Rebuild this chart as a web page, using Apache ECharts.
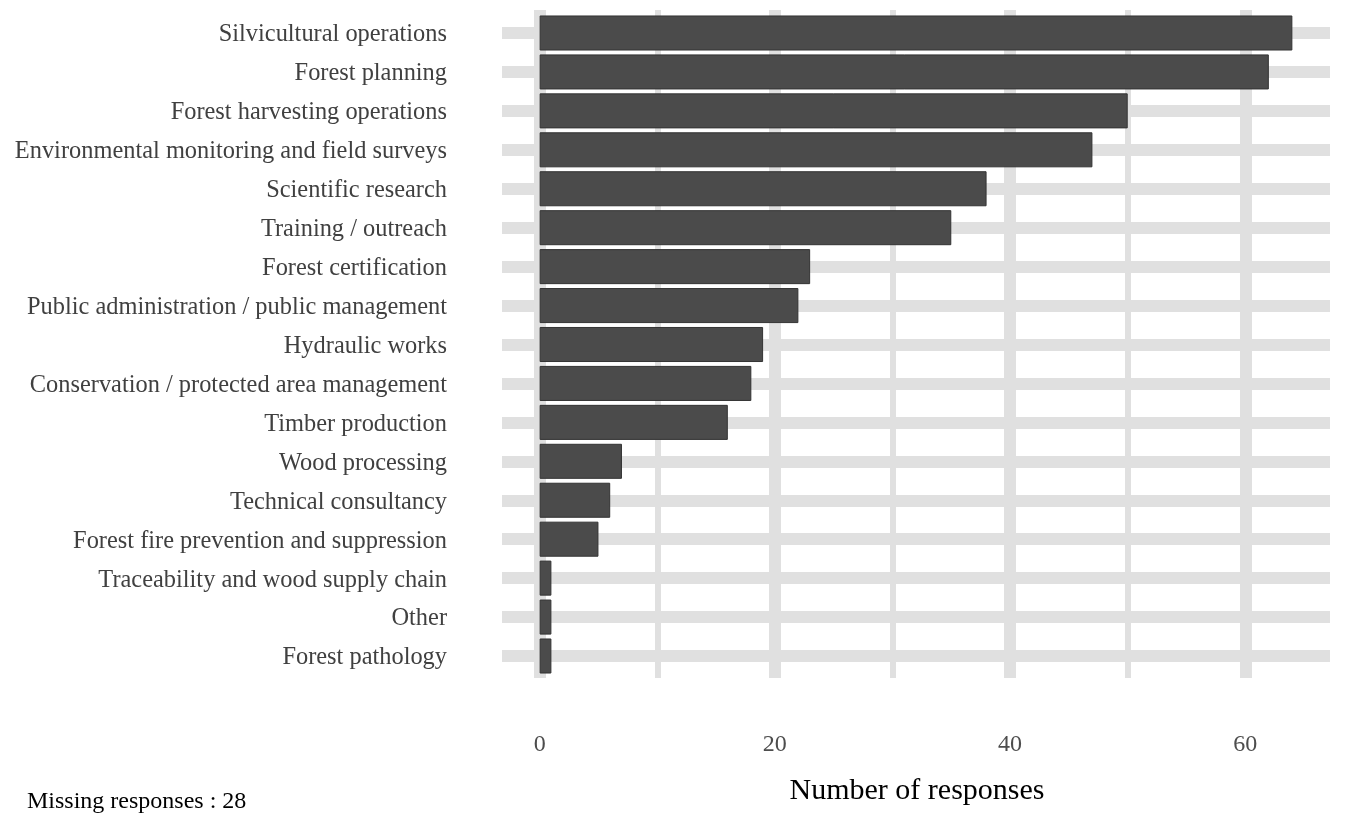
<!DOCTYPE html>
<html><head><meta charset="utf-8">
<script src="https://cdn.jsdelivr.net/npm/echarts@6/dist/echarts.min.js"></script>
<style>html,body{margin:0;padding:0;background:#fff}#c{width:1355px;height:839px}</style>
</head><body><div id="c"></div>
<script>
const categories = [
  'Silvicultural operations',
  'Forest planning',
  'Forest harvesting operations',
  'Environmental monitoring and field surveys',
  'Scientific research',
  'Training / outreach',
  'Forest certification',
  'Public administration / public management',
  'Hydraulic works',
  'Conservation / protected area management',
  'Timber production',
  'Wood processing',
  'Technical consultancy',
  'Forest fire prevention and suppression',
  'Traceability and wood supply chain',
  'Other',
  'Forest pathology'
];
const responses = [64, 62, 50, 47, 38, 35, 23, 22, 19, 18, 16, 7, 6, 5, 1, 1, 1];
const tickLabels = [0, 20, 40, 60];
const majorGrid = [0, 20, 40, 60];
const minorGrid = [10, 30, 50];
const xRange = [-3.2, 67.2];
const axisTitle = 'Number of responses';
const missingNote = 'Missing responses : 28';

const FONT = '"Liberation Serif", "Times New Roman", serif';
const GRID_COLOR = '#e0e0e0';

const chart = echarts.init(document.getElementById('c'), null, {renderer: 'canvas'});
const gridLines = majorGrid.map(v => ({xAxis: v, lineStyle: {color: GRID_COLOR, width: 12, type: 'solid'}}))
  .concat(minorGrid.map(v => ({xAxis: v, lineStyle: {color: GRID_COLOR, width: 6, type: 'solid'}})));

chart.setOption({
  animation: false,
  backgroundColor: '#ffffff',
  grid: [
    {left: 502, right: 25, top: 33, bottom: 183},
    {left: 502, right: 25, top: 10, bottom: 161}
  ],
  xAxis: [
    {gridIndex: 0, type: 'value', min: xRange[0], max: xRange[1], show: false},
    {gridIndex: 1, type: 'value', min: xRange[0], max: xRange[1],
     axisLine: {show: false}, axisTick: {show: false}, splitLine: {show: false},
     axisLabel: {customValues: tickLabels, margin: 55, fontFamily: FONT, fontSize: 24, color: '#4d4d4d'}}
  ],
  yAxis: [
    {gridIndex: 0, type: 'category', data: categories, inverse: true, boundaryGap: false,
     axisLine: {show: false}, axisTick: {show: false},
     axisLabel: {interval: 0, margin: 55, fontFamily: FONT, fontSize: 24.4, color: '#404040',
                 verticalAlign: 'top', lineHeight: 4},
     splitLine: {show: true, interval: 0, lineStyle: {color: GRID_COLOR, width: 12}}},
    {gridIndex: 1, type: 'value', min: 0, max: 1, show: false}
  ],
  series: [
    {type: 'line', xAxisIndex: 1, yAxisIndex: 1, data: [], z: 0, zlevel: 0, silent: true,
     markLine: {silent: true, z: 0, symbol: ['none', 'none'], label: {show: false}, animation: false, data: gridLines}},
    {type: 'bar', xAxisIndex: 0, yAxisIndex: 0, data: responses, barWidth: '90%', clip: false, z: 10,
     itemStyle: {color: '#4b4b4b', borderColor: '#333333', borderWidth: 1}}
  ],
  graphic: [
    {type: 'text', x: 917, y: 791, style: {text: axisTitle, font: '30px ' + FONT, fill: '#000', align: 'center', verticalAlign: 'middle'}},
    {type: 'text', x: 27, y: 802, style: {text: missingNote, font: '24px ' + FONT, fill: '#000', align: 'left', verticalAlign: 'middle'}}
  ]
});
</script>
</body></html>
